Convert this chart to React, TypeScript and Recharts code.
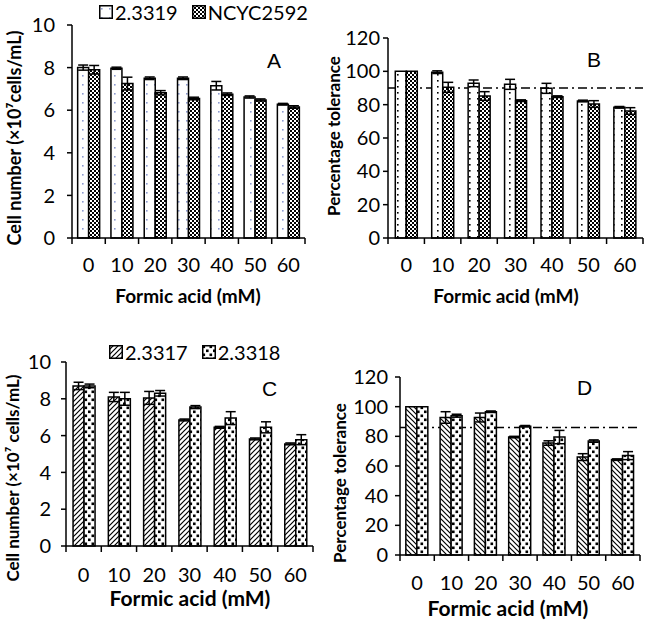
import React from "react";
import { BarChart, Bar, XAxis, YAxis, ErrorBar, CartesianGrid, Legend } from "recharts";

const concentrations = ["0", "10", "20", "30", "40", "50", "60"];
const cellTicks = [0, 2, 4, 6, 8, 10];
const tolTicks = [0, 20, 40, 60, 80, 100, 120];

// A: cell number (x10^7 cells/mL)
const cellsA_2_3319 = [8.0, 7.97, 7.5, 7.5, 7.15, 6.62, 6.28];
const cellsA_2_3319Err = [0.12, 0.05, 0.06, 0.06, 0.2, 0.05, 0.04];
const cellsA_NCYC2592 = [7.9, 7.25, 6.82, 6.55, 6.75, 6.48, 6.15];
const cellsA_NCYC2592Err = [0.2, 0.3, 0.1, 0.06, 0.06, 0.05, 0.06];

// B: percentage tolerance
const tolB_2_3319 = [100, 99.5, 92.8, 92.2, 89.8, 82.2, 78.4];
const tolB_2_3319Err = [0, 0.8, 2, 3, 3, 0.5, 0.5];
const tolB_NCYC2592 = [100, 90.4, 85.2, 82.4, 84.8, 80.4, 76.2];
const tolB_NCYC2592Err = [0, 3, 2.6, 0.5, 0.5, 2, 2];
const tolThresholdB = 90;

// C: cell number
const cellsC_2_3317 = [8.7, 8.1, 8.05, 6.85, 6.45, 5.82, 5.55];
const cellsC_2_3317Err = [0.2, 0.25, 0.35, 0.05, 0.05, 0.05, 0.05];
const cellsC_2_3318 = [8.7, 8.0, 8.3, 7.55, 6.95, 6.45, 5.78];
const cellsC_2_3318Err = [0.1, 0.35, 0.15, 0.08, 0.35, 0.3, 0.27];

// D: percentage tolerance
const tolD_2_3317 = [100, 92.7, 92.7, 79.5, 75.5, 66, 64.3];
const tolD_2_3317Err = [0, 3.9, 3, 0.5, 1.5, 2.3, 0.5];
const tolD_2_3318 = [100, 93.9, 96.6, 86.8, 79.5, 76.8, 67];
const tolD_2_3318Err = [0, 1, 0.5, 0.5, 4.5, 0.8, 2.7];
const tolThresholdD = 86;

const toRows = (a: number[], aErr: number[], b: number[], bErr: number[]) =>
  concentrations.map((c, i) => ({ conc: c, a: a[i], aErr: aErr[i], b: b[i], bErr: bErr[i] }));

const FONT = "Lato, 'Open Sans', sans-serif";
const AXIS = { stroke: "#000", strokeWidth: 1.5 };

function Patterns() {
  return (
    <defs>
      <pattern id="dotsBlue" patternUnits="userSpaceOnUse" width="8" height="9">
        <rect width="8" height="9" fill="#fff" />
        <rect x="2" y="3" width="1.6" height="1.6" fill="#8d9bd0" />
      </pattern>
      <pattern id="dotsBlack" patternUnits="userSpaceOnUse" width="8" height="6">
        <rect width="8" height="6" fill="#fff" />
        <rect x="3" y="2" width="1.6" height="1.6" fill="#000" />
      </pattern>
      <pattern id="checker" patternUnits="userSpaceOnUse" width="4" height="4">
        <rect width="4" height="4" fill="#fff" />
        <rect x="0" y="0" width="2" height="2" fill="#000" />
        <rect x="2" y="2" width="2" height="2" fill="#000" />
      </pattern>
      <pattern id="hatchUp" patternUnits="userSpaceOnUse" width="5" height="5">
        <rect width="5" height="5" fill="#fff" />
        <path d="M-1,1 l2,-2 M0,5 l5,-5 M4,6 l2,-2" stroke="#000" strokeWidth="1.2" />
      </pattern>
      <pattern id="hatchDown" patternUnits="userSpaceOnUse" width="5" height="5">
        <rect width="5" height="5" fill="#fff" />
        <path d="M-1,4 l2,2 M0,0 l5,5 M4,-1 l2,2" stroke="#000" strokeWidth="1.2" />
      </pattern>
      <pattern id="squares" patternUnits="userSpaceOnUse" width="7" height="8">
        <rect width="7" height="8" fill="#fff" />
        <rect x="0.5" y="0.5" width="2.6" height="2.6" fill="#000" />
        <rect x="4" y="4.5" width="2.6" height="2.6" fill="#000" />
      </pattern>
    </defs>
  );
}

type LegendItem = { name: string; pattern: string };

// category label plus Excel-style tick marks between the categories
function makeCategoryTick(tickMargin: number) {
  return (tp: any) => {
    const { x, y, payload, index, visibleTicksCount, width } = tp;
    const band = width / visibleTicksCount;
    const y0 = y - tickMargin;
    const left = x - band / 2;
    const right = x + band / 2;
    return (
      <g>
        <line x1={left} x2={left} y1={y0} y2={y0 + 6} stroke="#000" strokeWidth={1.5} />
        {index === visibleTicksCount - 1 && (
          <line x1={right} x2={right} y1={y0} y2={y0 + 6} stroke="#000" strokeWidth={1.5} />
        )}
        <text x={x} y={y} dy="0.71em" textAnchor="middle" fontSize={20} fill="#000" fontFamily={FONT}>
          {payload.value}
        </text>
      </g>
    );
  };
}

function Panel(props: {
  left: number; top: number; width: number; height: number;
  margin: { top: number; right: number; left: number; bottom: number };
  yWidth: number; catHeight: number; tickMargin: number; yTickMargin: number;
  rows: any[]; aFill: string; bFill: string; aName: string; bName: string;
  yMax: number; yTicks: number[]; yTitle: string; yTitleX: number; yTitleY: number; yTitleSize: number;
  xTitleX: number; xTitleY: number; xTitleSize: number; letter: string; letterX: number; letterY: number;
  gap: string; threshold?: number; legend?: { items: LegendItem[]; top: number; left: number };
}) {
  const p = props;
  return (
    <div style={{ position: "absolute", left: p.left, top: p.top }}>
      <BarChart width={p.width} height={p.height} data={p.rows} margin={p.margin}
        barCategoryGap={p.gap} barGap={0} style={{ fontFamily: FONT }}>
        <Patterns />
        {/* dash-dot tolerance threshold, drawn as a grid line so the bars cover it */}
        {p.threshold !== undefined && (
          <CartesianGrid vertical={false} horizontalValues={[p.threshold]} stroke="#000" strokeWidth={1.5}
            strokeDasharray="9 4 2 4" />
        )}
        <XAxis dataKey="conc" height={p.catHeight} axisLine={AXIS} tickLine={false} tickSize={0}
          tickMargin={p.tickMargin} interval={0} tick={makeCategoryTick(p.tickMargin)} />
        <YAxis type="number" domain={[0, p.yMax]} ticks={p.yTicks} interval={0} width={p.yWidth}
          axisLine={AXIS} tickLine={AXIS} tickSize={5} tickMargin={p.yTickMargin}
          tick={{ fontSize: 20, fill: "#000", fontFamily: FONT }} />
        <Bar dataKey="a" name={p.aName} fill={p.aFill} stroke="#000" strokeWidth={1.5} isAnimationActive={false}>
          <ErrorBar dataKey="aErr" width={5} stroke="#000" strokeWidth={1.5} />
        </Bar>
        <Bar dataKey="b" name={p.bName} fill={p.bFill} stroke="#000" strokeWidth={1.5} isAnimationActive={false}>
          <ErrorBar dataKey="bErr" width={5} stroke="#000" strokeWidth={1.5} />
        </Bar>
        {p.legend && (
          <Legend layout="horizontal" verticalAlign="middle" align="center"
            wrapperStyle={{ position: "absolute", top: p.legend.top, left: p.legend.left, width: "auto" }}
            content={() => (
              <div style={{ display: "flex", alignItems: "center", fontFamily: FONT, fontSize: 20, lineHeight: "24px", color: "#000", whiteSpace: "nowrap" }}>
                {p.legend!.items.map((it) => (
                  <span key={it.name} style={{ display: "inline-flex", alignItems: "center", marginRight: 14 }}>
                    <svg width={14} height={14} style={{ marginRight: 2 }}>
                      <rect x={0.75} y={0.75} width={12.5} height={12.5} fill={`url(#${it.pattern})`} stroke="#000" strokeWidth={1.5} />
                    </svg>
                    {it.name}
                  </span>
                ))}
              </div>
            )}
          />
        )}
        <text x={p.yTitleX} y={p.yTitleY} transform={`rotate(-90 ${p.yTitleX} ${p.yTitleY})`} textAnchor="middle"
          fontSize={p.yTitleSize} fontWeight="bold" fontFamily={FONT} fill="#000">{p.yTitle}</text>
        <text x={p.xTitleX} y={p.xTitleY} textAnchor="middle" fontSize={p.xTitleSize} fontWeight="bold" fontFamily={FONT} fill="#000">
          Formic acid (mM)
        </text>
        <text x={p.letterX} y={p.letterY} fontSize={21} fontFamily="'Liberation Sans', Arial, sans-serif" fill="#000">{p.letter}</text>
      </BarChart>
    </div>
  );
}

export default function App() {
  return (
    <div style={{ position: "absolute", left: 0, top: 0, width: 645, height: 622, background: "#fff", overflow: "hidden" }}>
      <Panel left={0} top={0} width={322} height={310}
        margin={{ top: 25, right: 17, left: 30, bottom: 0 }} yWidth={42} catHeight={72} tickMargin={20} yTickMargin={12}
        rows={toRows(cellsA_2_3319, cellsA_2_3319Err, cellsA_NCYC2592, cellsA_NCYC2592Err)}
        aFill="url(#dotsBlue)" bFill="url(#checker)" aName="2.3319" bName="NCYC2592"
        yMax={10} yTicks={cellTicks} yTitle="Cell number (×10⁷cells/mL)" yTitleX={21} yTitleY={138} yTitleSize={18}
        xTitleX={188} xTitleY={303} xTitleSize={19} letter="A" letterX={267} letterY={68} gap="17%"
        legend={{ items: [{ name: "2.3319", pattern: "dotsBlue" }, { name: "NCYC2592", pattern: "checker" }], top: 0, left: 99 }} />
      <Panel left={322} top={0} width={323} height={310}
        margin={{ top: 38, right: 2, left: 26, bottom: 0 }} yWidth={40} catHeight={72} tickMargin={20} yTickMargin={3}
        rows={toRows(tolB_2_3319, tolB_2_3319Err, tolB_NCYC2592, tolB_NCYC2592Err)}
        aFill="url(#dotsBlack)" bFill="url(#checker)" aName="2.3319" bName="NCYC2592"
        yMax={120} yTicks={tolTicks} yTitle="Percentage tolerance" yTitleX={18} yTitleY={136} yTitleSize={17}
        xTitleX={184} xTitleY={303} xTitleSize={19} letter="B" letterX={265} letterY={67} gap="20%" threshold={tolThresholdB} />
      <Panel left={0} top={310} width={322} height={312}
        margin={{ top: 52, right: 9, left: 26, bottom: 0 }} yWidth={40} catHeight={76} tickMargin={22} yTickMargin={10}
        rows={toRows(cellsC_2_3317, cellsC_2_3317Err, cellsC_2_3318, cellsC_2_3318Err)}
        aFill="url(#hatchUp)" bFill="url(#squares)" aName="2.3317" bName="2.3318"
        yMax={10} yTicks={cellTicks} yTitle="Cell number (×10⁷ cells/mL)" yTitleX={19} yTitleY={168} yTitleSize={17}
        xTitleX={190} xTitleY={296} xTitleSize={21} letter="C" letterX={262} letterY={86} gap="20%"
        legend={{ items: [{ name: "2.3317", pattern: "hatchUp" }, { name: "2.3318", pattern: "squares" }], top: 30, left: 109 }} />
      <Panel left={322} top={310} width={323} height={312}
        margin={{ top: 67, right: 5, left: 38, bottom: 0 }} yWidth={40} catHeight={67} tickMargin={21} yTickMargin={7}
        rows={toRows(tolD_2_3317, tolD_2_3317Err, tolD_2_3318, tolD_2_3318Err)}
        aFill="url(#hatchDown)" bFill="url(#squares)" aName="2.3317" bName="2.3318"
        yMax={120} yTicks={tolTicks} yTitle="Percentage tolerance" yTitleX={24} yTitleY={173} yTitleSize={17}
        xTitleX={186} xTitleY={306} xTitleSize={21} letter="D" letterX={255} letterY={85} gap="17%" threshold={tolThresholdD} />
    </div>
  );
}
